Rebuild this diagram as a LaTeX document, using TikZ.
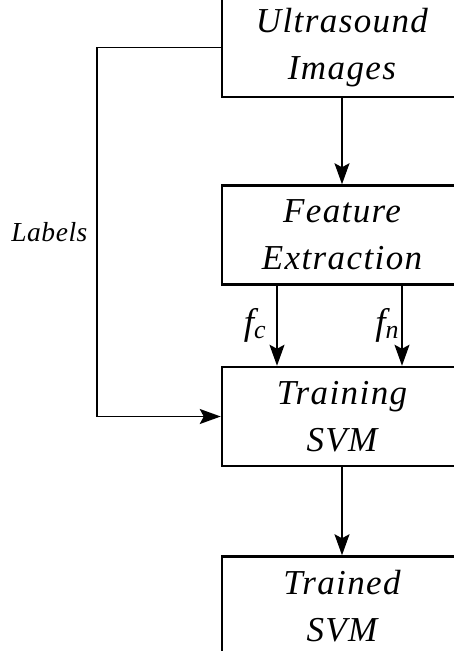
\documentclass[tikz,border=0pt]{standalone}
\usepackage{fontspec}
\setmainfont{Liberation Serif}
\usetikzlibrary{positioning,arrows.meta}

\begin{document}
\begin{tikzpicture}[x=1pt, y=1pt,
		b/.style={rectangle, draw, line width=2.5pt, minimum width=240pt, minimum height=99pt, inner sep=0pt, align=center, font=\fontsize{35}{47}\selectfont\itshape\addfontfeatures{LetterSpace=4}},
		conn/.style={line width=1.7pt, -{Stealth[length=21pt, width=15pt, inset=4pt]}},
		lbl/.style={font=\fontsize{37}{40}\selectfont\itshape}]
		\useasboundingbox (0,0) rectangle (454,-651);
		\clip (0,0) rectangle (454,-651);

		\node [b] (U) at (342,-47.5) {Ultrasound\\Images};
		\node [b, below=86pt of U] (F) {Feature\\Extraction};
		\node [b, below=80pt of F] (T) {Training\\SVM};
		\node [b, below=88pt of T] (S) {Trained\\SVM};
		\coordinate (L) at (97,-232);
		\node [left=6pt of L, font=\fontsize{27.5}{32}\selectfont\itshape\addfontfeatures{LetterSpace=2}] (Ltext) {Labels};

		\path[conn] (U) edge (F);
		\path[conn] ([xshift=-65pt]F.south) edge node [lbl, left, inner sep=10pt] {f\textsubscript{c}} ([xshift=-65pt]T.north);
		\path[conn] ([xshift=60pt]F.south) edge node [lbl, left, inner sep=2pt] {f\textsubscript{n}} ([xshift=60pt]T.north);
		\path[conn] (T) edge (S);
		\draw[conn] (U.west) -| (L) |- (T.west);
	\end{tikzpicture}
\end{document}
